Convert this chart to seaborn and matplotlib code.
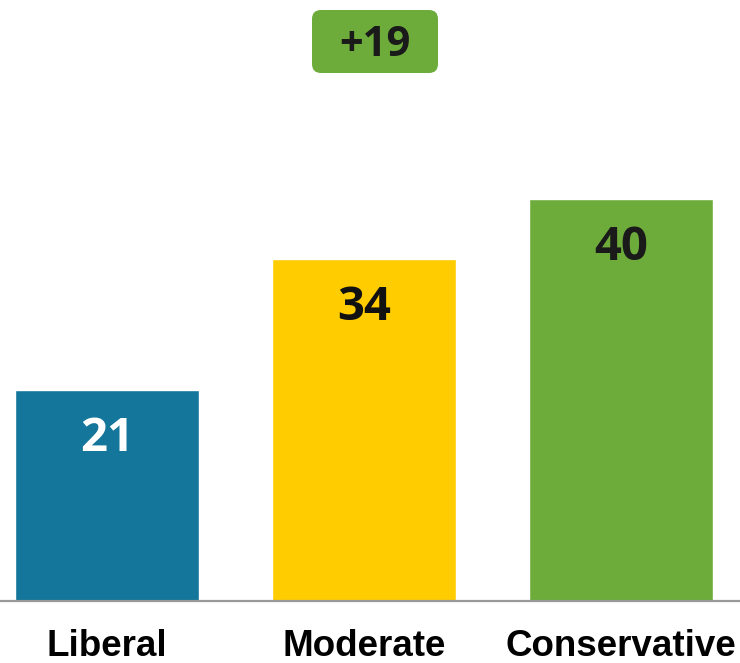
import matplotlib
matplotlib.use('Agg')
import matplotlib.pyplot as plt
from matplotlib.patches import FancyBboxPatch
from matplotlib.transforms import IdentityTransform
import pandas as pd
import seaborn as sns

# chart data
categories = ['Liberal', 'Moderate', 'Conservative']
values = [21, 34, 40]
bar_colors = ['#13769A', '#FFCC00', '#6DAC3A']
value_colors = ['white', '#111111', '#1a1a1a']
diff_label = '+19'

sns.set_style('white')

df = pd.DataFrame({'group': categories, 'pct': values})

fig = plt.figure(figsize=(7.4, 6.63), dpi=100)
ax = fig.add_axes([0, 62 / 663, 1, 601 / 663])

sns.barplot(data=df, x='group', y='pct', hue='group', palette=bar_colors,
            width=0.714, legend=False, saturation=1, ax=ax)

ax.set_xlim(-107 / 257, 633 / 257)
ax.set_ylim(0, 59.8)

# values inside the bars
for i, (v, c) in enumerate(zip(values, value_colors)):
    ax.annotate(str(v), (i, v), xytext=(0, -35), textcoords='offset points',
                ha='center', va='center', fontsize=34, fontweight='bold',
                family='Open Sans', color=c)

# difference badge
badge = FancyBboxPatch((312, 590), 126, 63, boxstyle='round,pad=0,rounding_size=9',
                       transform=IdentityTransform(), facecolor='#6DAC3A',
                       edgecolor='none', zorder=5)
fig.patches.append(badge)
fig.text(375 / 740, (663 - 45) / 663, diff_label, ha='center', va='center',
         fontsize=30, fontweight='bold', family='Open Sans', color='#1a1a1a', zorder=6)

ax.set_xlabel('')
ax.set_ylabel('')
ax.set_yticks([])
ax.set_xticks(range(len(categories)))
ax.set_xticklabels(categories, fontsize=26.5, fontweight='bold',
                   family='Liberation Sans', color='black')
ax.tick_params(axis='x', length=0, pad=20)

for s in ['top', 'right', 'left']:
    ax.spines[s].set_visible(False)
ax.spines['bottom'].set_color('#999999')
ax.spines['bottom'].set_linewidth(1.6)

fig.savefig('out.png', dpi=100)
